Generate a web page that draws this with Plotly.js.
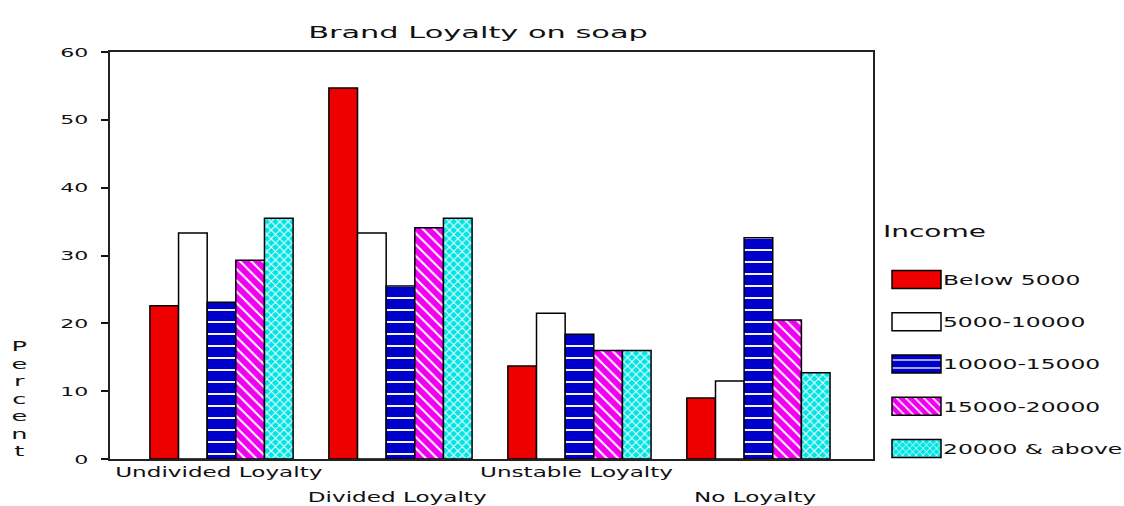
<!DOCTYPE html>
<html>
<head>
<meta charset="utf-8">
<script src="https://cdn.plot.ly/plotly-3.0.1.min.js"></script>
<style>
html,body{margin:0;padding:0;background:#fff;}
#chart{width:1124px;height:506px;}
</style>
</head>
<body>
<div id="chart"></div>
<script>
// ---- data ----
const chartTitle = 'Brand Loyalty on soap';
const yTitle = 'Percent';
const legendTitle = 'Income';
const categories = ['Undivided Loyalty', 'Divided Loyalty', 'Unstable Loyalty', 'No Loyalty'];
const seriesNames = ['Below 5000', '5000-10000', '10000-15000', '15000-20000', '20000 & above'];
const below5000   = [22.6, 54.7, 13.7, 9.0];
const from5000    = [33.3, 33.3, 21.5, 11.5];
const from10000   = [23.1, 25.5, 18.4, 32.6];
const from15000   = [29.3, 34.1, 16.0, 20.5];
const above20000  = [35.5, 35.5, 16.0, 12.7];
const yTickVals = [0, 10, 20, 30, 40, 50, 60];

const seriesValues = [below5000, from5000, from10000, from15000, above20000];
const styles = [
  {color: '#ee0000'},
  {color: '#ffffff'},
  {color: '#0000cc', pattern: {shape: '-', fillmode: 'replace', bgcolor: '#0000cc', fgcolor: '#ffffff', size: 12, solidity: 0.16}},
  {color: '#f000f0', pattern: {shape: '\\', fillmode: 'replace', bgcolor: '#f000f0', fgcolor: '#ffffff', size: 8, solidity: 0.25}},
  {color: '#00e4e4', pattern: {shape: 'x', fillmode: 'replace', bgcolor: '#00e4e4', fgcolor: '#ffffff', size: 6, solidity: 0.3}}
];

const FONT = 'DejaVu Sans, Verdana, sans-serif';
const traces = seriesNames.map((name, i) => {
  const marker = {color: styles[i].color, line: {color: '#000', width: 1.5}};
  if (styles[i].pattern) marker.pattern = styles[i].pattern;
  return {type: 'bar', name: name, x: categories, y: seriesValues[i], marker: marker,
          legendgroup: 'g' + i, hoverinfo: 'skip'};
});

const rowOffsets = [-13, -38, -13, -38];
const annotations = categories.map((c, i) => ({
  x: c, xref: 'x', y: 0, yref: 'paper', yanchor: 'middle', xanchor: 'center',
  yshift: rowOffsets[i], xshift: -3, showarrow: false, text: c,
  font: {family: FONT, size: 14, color: '#111'}
}));
annotations.push({
  x: (19 - 110) / 763, xref: 'paper', y: 1 - (398 - 52) / 407, yref: 'paper', showarrow: false,
  xanchor: 'center', yanchor: 'middle', text: yTitle.split('').join('<br>'),
  font: {family: FONT, size: 13.5, color: '#111'}
});
annotations.push({
  x: (935 - 110) / 763, xref: 'paper', xanchor: 'center', y: 1 - (231 - 52) / 407, yref: 'paper', yanchor: 'middle',
  showarrow: false, text: legendTitle, font: {family: FONT, size: 16, color: '#111'}
});

const layout = {
  width: 1124, height: 506,
  margin: {l: 110, r: 251, t: 52, b: 47},
  paper_bgcolor: '#fff', plot_bgcolor: '#fff',
  title: {text: chartTitle, x: 478 / 1124, xanchor: 'center', y: 1 - 32 / 506, yanchor: 'middle',
          font: {family: FONT, size: 16, color: '#111'}},
  barmode: 'group', bargap: 0.2, bargroupgap: 0,
  xaxis: {type: 'category', range: [-0.623, 3.64], showticklabels: false, ticks: '',
          showline: true, linecolor: '#222', linewidth: 2, mirror: true, showgrid: false, zeroline: false,
          fixedrange: true},
  yaxis: {range: [0, 60], tickvals: yTickVals, ticks: 'outside', ticklen: 7, tickwidth: 2, tickcolor: '#111',
          ticklabelstandoff: 10,
          showline: true, linecolor: '#222', linewidth: 2, mirror: true, showgrid: false, zeroline: false,
          tickfont: {family: FONT, size: 13, color: '#111'}, fixedrange: true},
  showlegend: true,
  legend: {x: 1 + (903 - 873) / 763, xanchor: 'left', y: 1 - (264 - 52) / 407, yanchor: 'top',
           font: {family: FONT, size: 14, color: '#111'}, tracegroupgap: 21, bgcolor: 'rgba(0,0,0,0)',
           traceorder: 'grouped'},
  annotations: annotations
};

Plotly.newPlot('chart', traces, layout, {displayModeBar: false, staticPlot: true}).then(gd => {
  // let the legend draw outside its measured box
  gd.querySelectorAll('.legend [clip-path]').forEach(e => e.removeAttribute('clip-path'));
  // enlarge legend swatches
  gd.querySelectorAll('.legend .traces').forEach(tr => {
    const txt = tr.querySelector('.legendtext');
    const paths = tr.querySelectorAll('.legendpoints path');
    if (!txt || !paths.length) return;
    const t = txt.getBoundingClientRect();
    paths.forEach(p => {
      const r = p.getBoundingClientRect();
      const cx = (r.left + r.right) / 2;
      const L = (t.left - 51 - cx).toFixed(1), R = (t.left - 2 - cx).toFixed(1);
      p.setAttribute('d', 'M' + L + ',9H' + R + 'V-9H' + L + 'Z');
    });
  });
  // widen text like the stretched original
  const stretch = (el, f) => {
    const w = el.getComputedTextLength();
    if (w > 0) { el.setAttribute('textLength', (w * f).toFixed(1)); el.setAttribute('lengthAdjust', 'spacingAndGlyphs'); }
  };
  const scaleX = (el, f) => {
    const b = el.getBBox();
    const cx = b.x + b.width / 2;
    const prev = el.getAttribute('transform') || '';
    el.setAttribute('transform', prev + ' translate(' + cx + ',0) scale(' + f + ',1) translate(' + (-cx) + ',0)');
  };
  gd.querySelectorAll('.gtitle').forEach(el => stretch(el, 1.9));
  gd.querySelectorAll('.ytick text').forEach(el => stretch(el, 1.7));
  gd.querySelectorAll('.annotation-text').forEach(el => {
    const txt = el.textContent;
    if (el.querySelectorAll('tspan.line').length > 1) scaleX(el, 1.9);
    else stretch(el, txt === legendTitle ? 1.75 : 1.65);
  });
  gd.querySelectorAll('.legendtext').forEach(el => stretch(el, 1.67));
});
</script>
</body>
</html>
